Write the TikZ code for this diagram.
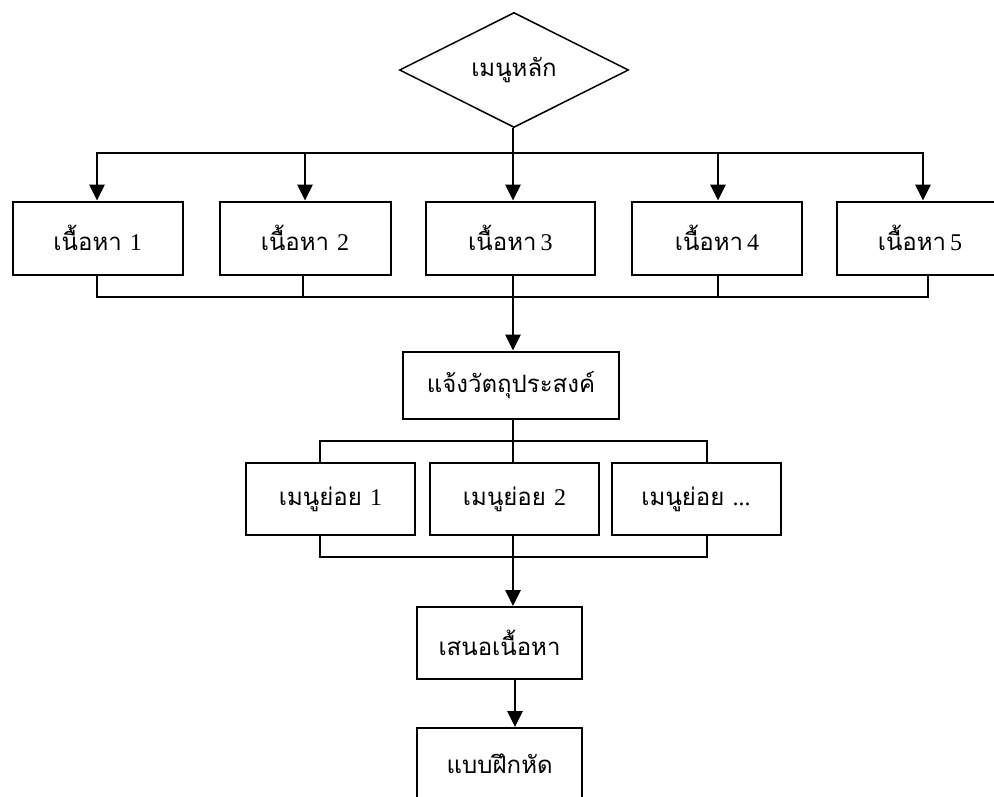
\documentclass[tikz,border=0pt]{standalone}
\usepackage{fontspec}
\setmainfont{Liberation Serif}
\newfontfamily\thaifont[Script=Thai]{Loma}
\newcommand{\num}[1]{{\rmfamily #1}}
\usetikzlibrary{shapes.geometric,arrows.meta}
\begin{document}
\begin{tikzpicture}[x=1pt,y=-1pt,
  box/.style={draw,line width=2pt,rectangle,inner sep=0pt,
    minimum width=#1,minimum height=72pt,font=\thaifont\fontsize{24}{28}\selectfont},
  box/.default=170pt,
  link/.style={line width=2.8pt},
  arr/.style={line width=2.8pt,-{Triangle[width=15pt,length=16pt]}},
  diam/.style={draw,line width=1.5pt,diamond,inner sep=0pt,
    minimum width=229pt,minimum height=115pt,font=\thaifont\fontsize{24}{28}\selectfont}]
\useasboundingbox (0,0) rectangle (994,796);
\fill[white] (0,0) rectangle (994,796);
\clip (0,0) rectangle (994,796);

% main menu
\node[diam] (menu) at (514,70) {เมนูหลัก};

% content topics
\node[box=170pt,minimum height=73pt] (b1) at (97.7,238) {เนื้อหา \num{1}};
\node[box=171pt,minimum height=73pt] (b2) at (305,238) {เนื้อหา \num{2}};
\node[box=169pt,minimum height=73pt] (b3) at (510.4,238) {เนื้อหา\,\num{3}};
\node[box=170pt,minimum height=73pt] (b4) at (717,238) {เนื้อหา\,\num{4}};
\node[box=172pt,minimum height=73pt] (b5) at (923,238) {\hspace*{-6pt}เนื้อหา\,\num{5}};

% objectives, sub menus, presentation, exercise
\node[box=216pt,minimum height=67pt] (obj) at (511,385) {แจ้งวัตถุประสงค์};
\node[box=169pt] (s1) at (330.5,499) {เมนูย่อย \num{1}};
\node[box=169pt] (s2) at (514.5,499) {เมนูย่อย \num{2}};
\node[box=169pt] (s3) at (696,499) {เมนูย่อย \num{...}};
\node[box=165pt] (pres) at (499.5,643) {เสนอเนื้อหา};
\node[box=165pt] (ex) at (499.7,764) {แบบฝึกหัด};

% branch points
\coordinate (t1) at (97,153);
\coordinate (t2) at (305,153);
\coordinate (t3) at (513,153);
\coordinate (t4) at (718,153);
\coordinate (t5) at (923,153);
\coordinate (u1) at (97,297);
\coordinate (u2) at (303,297);
\coordinate (u3) at (513,297);
\coordinate (u4) at (718,297);
\coordinate (u5) at (928,297);
\coordinate (v1) at (320,441);
\coordinate (v2) at (513,441);
\coordinate (v3) at (707,441);
\coordinate (w1) at (320,557);
\coordinate (w2) at (513,557);
\coordinate (w3) at (707,557);

% menu to topics
\draw[link] (menu.south -| t3) -- (t3);
\draw[link,line cap=rect] (t1) -- (t5);
\foreach \i in {1,...,5} \draw[arr] (t\i) -- (t\i |- b\i.north);

% topics to objectives
\foreach \i in {1,...,5} \draw[link] (u\i |- b\i.south) -- (u\i);
\draw[link,line cap=rect] (u1) -- (u5);
\draw[arr] (u3) -- (u3 |- obj.north);

% objectives to sub menus
\draw[link] (v2 |- obj.south) -- (v2);
\draw[link,line cap=rect] (v1) -- (v3);
\draw[link] (v1) -- (v1 |- s1.north);
\draw[link] (v2) -- (v2 |- s2.north);
\draw[link] (v3) -- (v3 |- s3.north);

% sub menus to presentation
\draw[link] (w1 |- s1.south) -- (w1);
\draw[link] (w2 |- s2.south) -- (w2);
\draw[link] (w3 |- s3.south) -- (w3);
\draw[link,line cap=rect] (w1) -- (w3);
\draw[arr] (w2) -- (w2 |- pres.north);

% presentation to exercise
\coordinate (x1) at (515,679);
\draw[arr] (x1) -- (x1 |- ex.north);
\end{tikzpicture}
\end{document}
